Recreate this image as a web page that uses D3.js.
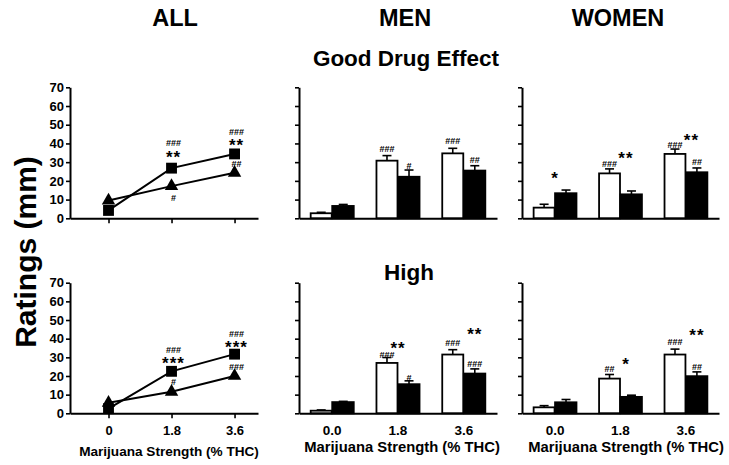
<!DOCTYPE html>
<html><head><meta charset="utf-8">
<script src="https://cdn.jsdelivr.net/npm/d3@7"></script>
<style>body{margin:0;background:#fff}svg{display:block}text{font-family:"Liberation Sans",Arial,sans-serif}</style>
</head><body><script>
// ---------- data ----------
const doses = [0, 1.8, 3.6];
const doseLabelsAll = ["0", "1.8", "3.6"];
const doseLabelsBar = ["0.0", "1.8", "3.6"];
const yTicks = [0, 10, 20, 30, 40, 50, 60, 70];
const columnTitles = ["ALL", "MEN", "WOMEN"];
const rowTitles = ["Good Drug Effect", "High"];
const yLabel = "Ratings (mm)";
const xLabel = "Marijuana Strength (% THC)";

// ALL panels (squares = open-bar group, triangles = filled-bar group)
const allGoodSquare = [4.2, 26.8, 34.4];
const allGoodTriangle = [9.5, 17.2, 24.3];
const allHighSquare = [2.5, 22.5, 31.7];
const allHighTriangle = [5.6, 11.5, 20.0];

// MEN
const menGoodOpen = [2.7, 30.8, 34.7];
const menGoodOpenSem = [0.5, 2.7, 2.7];
const menGoodFilled = [6.6, 22.2, 25.5];
const menGoodFilledSem = [0.8, 3.6, 2.6];
const menHighOpen = [1.4, 27.0, 31.5];
const menHighOpenSem = [0.4, 2.9, 2.6];
const menHighFilled = [6.0, 15.6, 21.3];
const menHighFilledSem = [0.4, 1.8, 2.5];

// WOMEN
const womenGoodOpen = [5.7, 24.0, 34.4];
const womenGoodOpenSem = [1.8, 2.4, 2.6];
const womenGoodFilled = [13.4, 12.8, 24.6];
const womenGoodFilledSem = [1.7, 1.8, 2.3];
const womenHighOpen = [3.2, 18.6, 31.5];
const womenHighOpenSem = [0.9, 2.2, 2.9];
const womenHighFilled = [5.9, 8.8, 19.9];
const womenHighFilledSem = [1.5, 0.9, 2.3];

// significance marks: dose index, anchor (w = open/square, b = filled, m = between, mb), text, level (mm)
const allGoodNotes = [
  {i:1, at:"w", t:"###", v:40.6}, {i:1, at:"w", t:"**", v:35.4}, {i:1, at:"w", t:"#", v:11.0},
  {i:2, at:"w", t:"###", v:46.0}, {i:2, at:"w", t:"**", v:41.6}, {i:2, at:"w", t:"##", v:28.9}];
const allHighNotes = [
  {i:1, at:"w", t:"###", v:33.8}, {i:1, at:"w", t:"***", v:29.3}, {i:1, at:"w", t:"#", v:17.0},
  {i:2, at:"w", t:"###", v:42.6}, {i:2, at:"w", t:"***", v:38.1}, {i:2, at:"w", t:"###", v:24.7}];
const menGoodNotes = [
  {i:1, at:"w", t:"###", v:37.4}, {i:1, at:"b", t:"#", v:28.0},
  {i:2, at:"w", t:"###", v:41.5}, {i:2, at:"b", t:"##", v:31.2}];
const womenGoodNotes = [
  {i:0, at:"m", t:"*", v:23.7}, {i:1, at:"mb", t:"**", v:34.4}, {i:1, at:"w", t:"###", v:29.0},
  {i:2, at:"w", t:"###", v:39.2}, {i:2, at:"mb", t:"**", v:44.5}, {i:2, at:"b", t:"##", v:30.3}];
const menHighNotes = [
  {i:1, at:"w", t:"###", v:31.6}, {i:1, at:"m", t:"**", v:37.4}, {i:1, at:"b", t:"#", v:19.3},
  {i:2, at:"w", t:"###", v:37.6}, {i:2, at:"b", t:"**", v:45.1}, {i:2, at:"b", t:"###", v:26.3}];
const womenHighNotes = [
  {i:1, at:"w", t:"##", v:23.9}, {i:1, at:"mb", t:"*", v:28.6},
  {i:2, at:"w", t:"###", v:38.4}, {i:2, at:"b", t:"**", v:44.3}, {i:2, at:"b", t:"##", v:25.0}];

// ---------- layout ----------
const W = 729, H = 465;
const svg = d3.select("body").append("svg").attr("width", W).attr("height", H);
const cols = [{x0:70, x1:258}, {x0:299, x1:497}, {x0:522, x1:719}];
const rows = [{y0:218.3, y1:87.3}, {y0:413.3, y1:282.7}];
const FONT = '"Liberation Sans", Arial, sans-serif';

function yAxis(g, y, withLabels) {
  const ax = d3.axisLeft(y).tickValues(yTicks).tickSize(4).tickSizeOuter(0)
    .tickFormat(withLabels ? d3.format("d") : "");
  g.call(ax);
  g.select(".domain").attr("stroke-width", 2).attr("stroke", "#000");
  g.selectAll(".tick line").attr("stroke-width", 1.6).attr("stroke", "#000");
  g.selectAll(".tick text").attr("font-family", FONT).attr("font-size", 13)
    .attr("font-weight", "bold").attr("fill", "#000").attr("x", -6);
}

function notes(g, list, xOf, y) {
  list.forEach(n => {
    const star = n.t.indexOf("*") >= 0;
    const fs = star ? 17 : 9;
    const off = star ? 0.62 * fs : 0.36 * fs;
    g.append("text").attr("x", xOf(n)).attr("y", y(n.v) + off)
      .attr("text-anchor", "middle").attr("font-family", FONT)
      .attr("font-size", fs).attr("font-weight", "bold")
      .attr("letter-spacing", star ? 1 : 0)
      .text(n.t);
  });
}

function linePanel(c, r, sq, tri, noteList, showX) {
  const C = cols[c], R = rows[r];
  const x = d3.scaleLinear().domain([-1.1, 4.27]).range([C.x0, C.x1]);
  const y = d3.scaleLinear().domain([0, 70]).range([R.y0, R.y1]);
  const g = svg.append("g");
  g.append("g").attr("transform", `translate(${C.x0},0)`).call(gg => yAxis(gg, y, true));
  const xa = g.append("g").attr("transform", `translate(0,${R.y0})`)
    .call(d3.axisBottom(x).tickValues(doses).tickSize(5).tickSizeOuter(0)
      .tickFormat((d, i) => showX ? doseLabelsAll[i] : ""));
  xa.select(".domain").attr("stroke-width", 2);
  xa.selectAll(".tick line").attr("stroke-width", 1.6);
  xa.selectAll(".tick text").attr("font-family", FONT).attr("font-size", 13)
    .attr("font-weight", "bold").attr("fill", "#000").attr("dy", "1.05em");
  const line = d3.line().x((d, i) => x(doses[i])).y(d => y(d));
  [sq, tri].forEach(s => g.append("path").attr("d", line(s)).attr("fill", "none")
    .attr("stroke", "#000").attr("stroke-width", 2));
  g.selectAll(".sq").data(sq).enter().append("path")
    .attr("transform", (d, i) => `translate(${x(doses[i])},${y(d)})`)
    .attr("d", d3.symbol(d3.symbolSquare, 118)());
  g.selectAll(".tri").data(tri).enter().append("path")
    .attr("transform", (d, i) => `translate(${x(doses[i])},${y(d)})`)
    .attr("d", d3.symbol(d3.symbolTriangle, 78)());
  notes(g, noteList, n => x(doses[n.i]) + 2, y);
}

function barPanel(c, r, open, openSem, filled, filledSem, noteList, showX) {
  const C = cols[c], R = rows[r];
  const x = d3.scaleBand().domain(doseLabelsBar).range([C.x0, C.x1])
    .paddingInner(0.33).paddingOuter(0.17);
  const y = d3.scaleLinear().domain([0, 70]).range([R.y0, R.y1]);
  const bw = x.bandwidth() / 2;
  const g = svg.append("g");
  const series = [
    {vals: open, sem: openSem, fill: "#fff", off: 0},
    {vals: filled, sem: filledSem, fill: "#000", off: bw}];
  series.forEach(s => {
    s.vals.forEach((v, i) => {
      const cx = x(doseLabelsBar[i]) + s.off + bw / 2;
      const top = y(v + s.sem[i]);
      g.append("line").attr("x1", cx).attr("x2", cx).attr("y1", y(v)).attr("y2", top)
        .attr("stroke", "#000").attr("stroke-width", 1.6);
      g.append("line").attr("x1", cx - 4.5).attr("x2", cx + 4.5).attr("y1", top).attr("y2", top)
        .attr("stroke", "#000").attr("stroke-width", 1.6);
    });
    g.selectAll(null).data(s.vals).enter().append("rect")
      .attr("x", (d, i) => x(doseLabelsBar[i]) + s.off + (s.off ? 0 : 0.5))
      .attr("y", d => y(d))
      .attr("width", bw - (s.off ? 0.5 : 1))
      .attr("height", d => R.y0 - y(d))
      .attr("fill", s.fill).attr("stroke", "#000").attr("stroke-width", 1.8);
  });
  g.append("g").attr("transform", `translate(${C.x0},0)`).call(gg => yAxis(gg, y, false));
  const xa = g.append("g").attr("transform", `translate(0,${R.y0})`)
    .call(d3.axisBottom(x).tickSize(0).tickSizeOuter(0).tickFormat(d => showX ? d : ""));
  xa.select(".domain").attr("stroke-width", 2);
  xa.selectAll(".tick text").attr("font-family", FONT).attr("font-size", 13.5)
    .attr("font-weight", "bold").attr("fill", "#000").attr("dy", "1.4em");
  const anchorX = n => {
    const b = x(doseLabelsBar[n.i]);
    return n.at === "w" ? b + bw / 2 : n.at === "b" ? b + 1.5 * bw : n.at === "m" ? b + bw : b + 1.25 * bw;
  };
  notes(g, noteList, anchorX, y);
}

linePanel(0, 0, allGoodSquare, allGoodTriangle, allGoodNotes, false);
linePanel(0, 1, allHighSquare, allHighTriangle, allHighNotes, true);
barPanel(1, 0, menGoodOpen, menGoodOpenSem, menGoodFilled, menGoodFilledSem, menGoodNotes, false);
barPanel(1, 1, menHighOpen, menHighOpenSem, menHighFilled, menHighFilledSem, menHighNotes, true);
barPanel(2, 0, womenGoodOpen, womenGoodOpenSem, womenGoodFilled, womenGoodFilledSem, womenGoodNotes, false);
barPanel(2, 1, womenHighOpen, womenHighOpenSem, womenHighFilled, womenHighFilledSem, womenHighNotes, true);

// titles
const colTitleX = [175, 405, 618];
columnTitles.forEach((t, i) => svg.append("text").attr("x", colTitleX[i]).attr("y", 26)
  .attr("text-anchor", "middle").attr("font-size", 23.5).attr("font-weight", "bold").text(t));
const rowTitlePos = [{x:406, y:66}, {x:409, y:280}];
rowTitles.forEach((t, i) => svg.append("text").attr("x", rowTitlePos[i].x).attr("y", rowTitlePos[i].y)
  .attr("text-anchor", "middle").attr("font-size", 22.5).attr("font-weight", "bold").text(t));
svg.append("text").attr("transform", "translate(36,252) rotate(-90)")
  .attr("text-anchor", "middle").attr("font-size", 30).attr("font-weight", "bold").text(yLabel);
const xLabPos = [{x:169, y:456, fs:13.6}, {x:402, y:452, fs:14.8}, {x:626, y:452, fs:14.8}];
xLabPos.forEach(p => svg.append("text").attr("x", p.x).attr("y", p.y).attr("text-anchor", "middle")
  .attr("font-size", p.fs).attr("font-weight", "bold").text(xLabel));
</script></body></html>
